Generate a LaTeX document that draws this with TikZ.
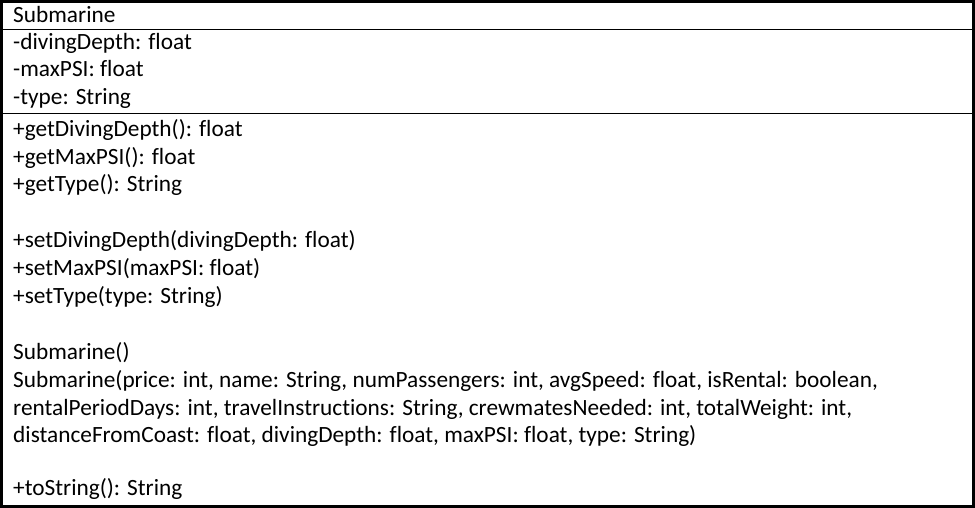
\documentclass[tikz,border=0pt]{standalone}
\usepackage{fontspec}
\setmainfont[Ligatures={NoCommon},RawFeature={-liga;-clig}]{Carlito}
\begin{document}
\begin{tikzpicture}[x=1pt,y=-1pt,
  umltext/.style={anchor=base west,inner sep=0pt,font=\fontsize{23.3}{27.6}\selectfont},
  outerframe/.style={draw=black,line width=2.6pt},
  divider/.style={draw=black,line width=1.3pt}]
\useasboundingbox (0,0) rectangle (975,508);
% class frame and compartment dividers
\draw[outerframe] (1.3,1.3) rectangle (973.7,506.7);
\coordinate (d1l) at (0,29.4);   \coordinate (d1r) at (975,29.4);
\coordinate (d2l) at (0,113.8);  \coordinate (d2r) at (975,113.8);
\draw[divider] (d1l) -- (d1r);
\draw[divider] (d2l) -- (d2r);
% class name
\node[umltext] (name) at (13,22.7) {Submarine};
% attributes
\node[umltext] (a1) at (13,49.5) {-divingDepth: float};
\node[umltext] (a2) at (13,77.0) {-maxPSI: float};
\node[umltext] (a3) at (13,104.5) {-type: String};
% operations
\node[umltext] (m1)  at (13,136.7) {+getDivingDepth(): float};
\node[umltext] (m2)  at (13,164.3) {+getMaxPSI(): float};
\node[umltext] (m3)  at (13,192.0) {+getType(): String};
\node[umltext] (m4)  at (13,247.6) {+setDivingDepth(divingDepth: float)};
\node[umltext] (m5)  at (13,275.5) {+setMaxPSI(maxPSI: float)};
\node[umltext] (m6)  at (13,303.2) {+setType(type: String)};
\node[umltext] (m7)  at (13,359.0) {Submarine()};
\node[umltext] (m8)  at (13,387.5) {Submarine(price: int, name: String, numPassengers: int, avgSpeed: float, isRental: boolean,};
\node[umltext] (m9)  at (13,415.0) {rentalPeriodDays: int, travelInstructions: String, crewmatesNeeded: int, totalWeight: int,};
\node[umltext] (m10) at (13,442.0) {distanceFromCoast: float, divingDepth: float, maxPSI: float, type: String)};
\node[umltext] (m11) at (13,495.5) {+toString(): String};
\end{tikzpicture}
\end{document}
